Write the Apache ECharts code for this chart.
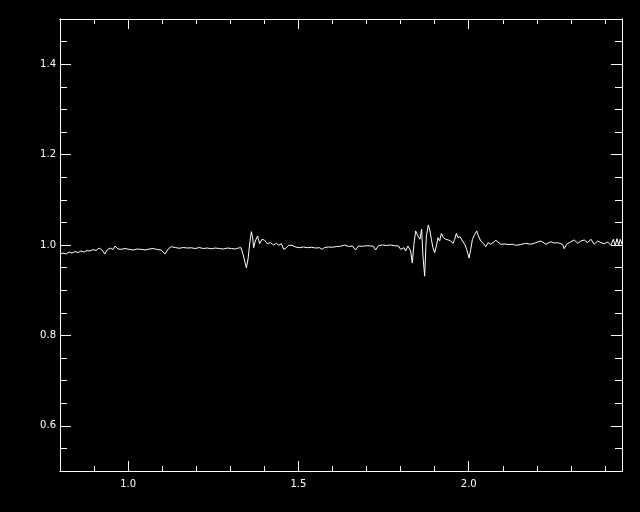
<!DOCTYPE html>
<html>
<head>
<meta charset="utf-8">
<script src="https://cdn.jsdelivr.net/npm/echarts@6/dist/echarts.min.js"></script>
<style>html,body{margin:0;padding:0;background:#000}#c{width:640px;height:512px}</style>
</head>
<body>
<div id="c"></div>
<script>
var wavelength = [
0.8000,0.8088,0.8176,0.8265,0.8353,0.8441,0.8529,0.8618,0.8706,0.8794,0.8882,0.8971,0.9059,0.9147,0.9235,0.9315,0.9382,0.9471,0.9559,0.9618,
0.9706,0.9794,0.9912,1.0029,1.0147,1.0265,1.0382,1.0500,1.0618,1.0735,1.0853,1.0971,1.1079,1.1176,1.1265,1.1382,1.1500,1.1618,1.1735,1.1853,
1.1971,1.2088,1.2206,1.2324,1.2441,1.2559,1.2676,1.2794,1.2912,1.3029,1.3147,1.3235,1.3315,1.3374,1.3421,1.3471,1.3521,1.3568,1.3618,1.3656,
1.3685,1.3735,1.3803,1.3862,1.3932,1.4009,1.4079,1.4176,1.4274,1.4353,1.4421,1.4500,1.4568,1.4647,1.4715,1.4815,1.4912,1.5029,1.5147,1.5265,
1.5382,1.5500,1.5618,1.5697,1.5765,1.5882,1.6000,1.6118,1.6235,1.6353,1.6471,1.6588,1.6676,1.6765,1.6882,1.7000,1.7118,1.7206,1.7265,1.7353,
1.7471,1.7588,1.7706,1.7824,1.7941,1.8000,1.8097,1.8147,1.8215,1.8294,1.8344,1.8391,1.8441,1.8509,1.8568,1.8618,1.8656,1.8706,1.8756,1.8815,
1.8862,1.8903,1.8950,1.9000,1.9050,1.9097,1.9147,1.9197,1.9256,1.9324,1.9403,1.9471,1.9538,1.9588,1.9638,1.9685,1.9744,1.9815,1.9882,1.9941,
2.0009,2.0059,2.0109,2.0176,2.0235,2.0285,2.0353,2.0432,2.0500,2.0568,2.0647,2.0794,2.0941,2.1059,2.1176,2.1294,2.1382,2.1529,2.1676,2.1824,
2.1971,2.2118,2.2265,2.2412,2.2500,2.2609,2.2676,2.2756,2.2803,2.2874,2.3000,2.3097,2.3197,2.3294,2.3391,2.3491,2.3588,2.3685,2.3785,2.3882,
2.3979,2.4079,2.4176,2.4244,2.4303,2.4353,2.4403,2.4450,2.4500,2.4560
];
var flux = [
0.9800,0.9822,0.9800,0.9844,0.9822,0.9856,0.9833,0.9867,0.9844,0.9878,0.9867,0.9900,0.9878,0.9933,0.9889,0.9800,0.9889,0.9933,0.9900,0.9978,
0.9911,0.9904,0.9922,0.9904,0.9889,0.9911,0.9904,0.9889,0.9911,0.9922,0.9900,0.9889,0.9800,0.9911,0.9962,0.9944,0.9927,0.9944,0.9933,0.9938,
0.9922,0.9944,0.9922,0.9933,0.9916,0.9933,0.9922,0.9911,0.9933,0.9922,0.9911,0.9933,0.9940,0.9800,0.9644,0.9496,0.9689,1.0022,1.0296,1.0162,
0.9940,1.0089,1.0200,1.0029,1.0127,1.0104,1.0029,1.0051,1.0000,1.0038,0.9993,1.0029,0.9904,0.9940,0.9993,0.9993,0.9956,0.9940,0.9956,0.9940,
0.9949,0.9933,0.9940,0.9904,0.9944,0.9956,0.9949,0.9967,0.9971,1.0000,0.9967,0.9978,0.9889,0.9978,0.9971,0.9984,0.9978,0.9971,0.9889,0.9989,
1.0000,0.9989,1.0000,0.9984,0.9978,0.9904,0.9940,0.9867,0.9978,0.9867,0.9600,1.0016,1.0311,1.0200,1.0127,1.0349,0.9756,0.9311,1.0200,1.0444,
1.0311,1.0127,0.9940,0.9829,0.9978,1.0162,1.0089,1.0256,1.0162,1.0127,1.0111,1.0089,1.0038,1.0127,1.0256,1.0162,1.0184,1.0089,1.0016,0.9904,
0.9711,0.9904,1.0127,1.0238,1.0311,1.0200,1.0089,1.0033,0.9962,1.0051,1.0016,1.0104,1.0016,1.0022,1.0011,1.0016,0.9993,1.0011,1.0038,1.0016,
1.0051,1.0089,1.0016,1.0073,1.0044,1.0051,1.0033,1.0016,0.9918,1.0016,1.0073,1.0111,1.0038,1.0089,1.0111,1.0051,1.0127,1.0016,1.0089,1.0051,
1.0029,1.0067,0.9993,1.0127,0.9993,1.0140,0.9993,1.0127,1.0016,1.0089
];
var xMajorTicks = [1.0, 1.5, 2.0];
var xMinorTicks = [0.9, 1.1, 1.2, 1.3, 1.4, 1.6, 1.7, 1.8, 1.9, 2.1, 2.2, 2.3, 2.4];
var yMajorTicks = [0.6, 0.8, 1.0, 1.2, 1.4];
var yMinorTicks = [0.55, 0.65, 0.7, 0.75, 0.85, 0.9, 0.95, 1.05, 1.1, 1.15, 1.25, 1.3, 1.35, 1.45];

var points = wavelength.map(function (w, i) { return [w, flux[i]]; });
var xMin = 0.8, xMax = 2.45, yMin = 0.5, yMax = 1.5;
var axisLine = { show: true, onZero: false, lineStyle: { color: '#fff', width: 1 } };

function xAx(pos, ticks, len, labels) {
  return {
    type: 'value', position: pos, min: xMin, max: xMax,
    axisLine: axisLine, splitLine: { show: false },
    axisTick: { show: true, inside: true, length: len, customValues: ticks, lineStyle: { color: '#fff', width: 1 } },
    axisLabel: labels ? { show: true, customValues: ticks, color: '#fff', fontFamily: 'DejaVu Sans', fontSize: 10, margin: 8,
      formatter: function (v) { return v.toFixed(1); } } : { show: false }
  };
}
function yAx(pos, ticks, len, labels) {
  return {
    type: 'value', position: pos, min: yMin, max: yMax,
    axisLine: axisLine, splitLine: { show: false },
    axisTick: { show: true, inside: true, length: len, customValues: ticks, lineStyle: { color: '#fff', width: 1 } },
    axisLabel: labels ? { show: true, customValues: ticks, color: '#fff', fontFamily: 'DejaVu Sans', fontSize: 10, margin: 4,
      formatter: function (v) { return v.toFixed(1); } } : { show: false }
  };
}

var chart = echarts.init(document.getElementById('c'));
chart.setOption({
  backgroundColor: '#000',
  animation: false,
  grid: { left: 60, right: 18, top: 19, bottom: 41, containLabel: false },
  xAxis: [
    xAx('bottom', xMajorTicks, 10, true),
    xAx('bottom', xMinorTicks, 5, false),
    xAx('top', xMajorTicks, 10, false),
    xAx('top', xMinorTicks, 5, false)
  ],
  yAxis: [
    yAx('left', yMajorTicks, 11, true),
    yAx('left', yMinorTicks, 7, false),
    yAx('right', yMajorTicks, 11, false),
    yAx('right', yMinorTicks, 7, false)
  ],
  series: [{
    type: 'line', xAxisIndex: 0, yAxisIndex: 0,
    data: points, showSymbol: false, symbol: 'none',
    lineStyle: { color: '#fff', width: 1 }, clip: true
  }]
});
</script>
</body>
</html>
